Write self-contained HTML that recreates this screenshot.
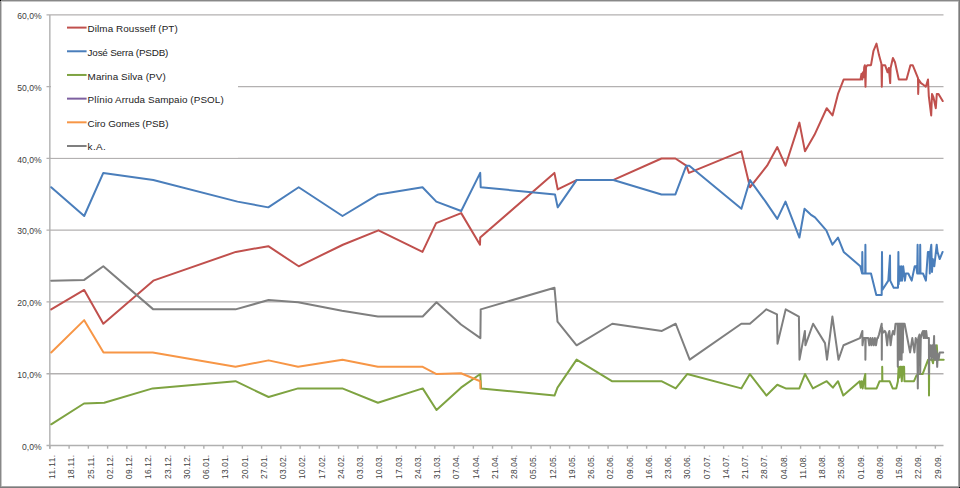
<!DOCTYPE html>
<html><head><meta charset="utf-8"><title>Umfragen</title>
<style>
html,body{margin:0;padding:0;background:#fff;}
body{width:960px;height:488px;overflow:hidden;position:relative;font-family:"Liberation Sans",sans-serif;}
svg{position:absolute;left:0;top:0;}
text{font-family:"Liberation Sans",sans-serif;}
</style></head><body>
<svg width="960" height="488" viewBox="0 0 960 488">
<rect x="0" y="0" width="960" height="488" fill="#fff"/>
<g stroke="#b3b1b1" stroke-width="1.3" fill="none">
<line x1="46.5" y1="14.88" x2="943.50" y2="14.88"/>
<line x1="46.5" y1="86.65" x2="943.50" y2="86.65"/>
<line x1="46.5" y1="158.42" x2="943.50" y2="158.42"/>
<line x1="46.5" y1="230.19" x2="943.50" y2="230.19"/>
<line x1="46.5" y1="301.96" x2="943.50" y2="301.96"/>
<line x1="46.5" y1="373.73" x2="943.50" y2="373.73"/>
</g>
<g stroke="#b0b0b0" stroke-width="1.4" fill="none">
<line x1="49.85" y1="14.88" x2="49.85" y2="448.70"/>
<line x1="46.5" y1="445.50" x2="943.50" y2="445.50"/>
<line x1="49.85" y1="445.50" x2="49.85" y2="448.70"/>
<line x1="69.10" y1="445.50" x2="69.10" y2="448.70"/>
<line x1="88.35" y1="445.50" x2="88.35" y2="448.70"/>
<line x1="107.60" y1="445.50" x2="107.60" y2="448.70"/>
<line x1="126.85" y1="445.50" x2="126.85" y2="448.70"/>
<line x1="146.10" y1="445.50" x2="146.10" y2="448.70"/>
<line x1="165.35" y1="445.50" x2="165.35" y2="448.70"/>
<line x1="184.60" y1="445.50" x2="184.60" y2="448.70"/>
<line x1="203.85" y1="445.50" x2="203.85" y2="448.70"/>
<line x1="223.10" y1="445.50" x2="223.10" y2="448.70"/>
<line x1="242.35" y1="445.50" x2="242.35" y2="448.70"/>
<line x1="261.60" y1="445.50" x2="261.60" y2="448.70"/>
<line x1="280.85" y1="445.50" x2="280.85" y2="448.70"/>
<line x1="300.10" y1="445.50" x2="300.10" y2="448.70"/>
<line x1="319.35" y1="445.50" x2="319.35" y2="448.70"/>
<line x1="338.60" y1="445.50" x2="338.60" y2="448.70"/>
<line x1="357.85" y1="445.50" x2="357.85" y2="448.70"/>
<line x1="377.10" y1="445.50" x2="377.10" y2="448.70"/>
<line x1="396.35" y1="445.50" x2="396.35" y2="448.70"/>
<line x1="415.60" y1="445.50" x2="415.60" y2="448.70"/>
<line x1="434.85" y1="445.50" x2="434.85" y2="448.70"/>
<line x1="454.10" y1="445.50" x2="454.10" y2="448.70"/>
<line x1="473.35" y1="445.50" x2="473.35" y2="448.70"/>
<line x1="492.60" y1="445.50" x2="492.60" y2="448.70"/>
<line x1="511.85" y1="445.50" x2="511.85" y2="448.70"/>
<line x1="531.10" y1="445.50" x2="531.10" y2="448.70"/>
<line x1="550.35" y1="445.50" x2="550.35" y2="448.70"/>
<line x1="569.60" y1="445.50" x2="569.60" y2="448.70"/>
<line x1="588.85" y1="445.50" x2="588.85" y2="448.70"/>
<line x1="608.10" y1="445.50" x2="608.10" y2="448.70"/>
<line x1="627.35" y1="445.50" x2="627.35" y2="448.70"/>
<line x1="646.60" y1="445.50" x2="646.60" y2="448.70"/>
<line x1="665.85" y1="445.50" x2="665.85" y2="448.70"/>
<line x1="685.10" y1="445.50" x2="685.10" y2="448.70"/>
<line x1="704.35" y1="445.50" x2="704.35" y2="448.70"/>
<line x1="723.60" y1="445.50" x2="723.60" y2="448.70"/>
<line x1="742.85" y1="445.50" x2="742.85" y2="448.70"/>
<line x1="762.10" y1="445.50" x2="762.10" y2="448.70"/>
<line x1="781.35" y1="445.50" x2="781.35" y2="448.70"/>
<line x1="800.60" y1="445.50" x2="800.60" y2="448.70"/>
<line x1="819.85" y1="445.50" x2="819.85" y2="448.70"/>
<line x1="839.10" y1="445.50" x2="839.10" y2="448.70"/>
<line x1="858.35" y1="445.50" x2="858.35" y2="448.70"/>
<line x1="877.60" y1="445.50" x2="877.60" y2="448.70"/>
<line x1="896.85" y1="445.50" x2="896.85" y2="448.70"/>
<line x1="916.10" y1="445.50" x2="916.10" y2="448.70"/>
<line x1="935.35" y1="445.50" x2="935.35" y2="448.70"/>
</g>
<g font-size="8.6" fill="#404040" text-anchor="end">
<text x="41.7" y="19.08">60,0%</text>
<text x="41.7" y="90.85">50,0%</text>
<text x="41.7" y="162.62">40,0%</text>
<text x="41.7" y="234.39">30,0%</text>
<text x="41.7" y="306.16">20,0%</text>
<text x="41.7" y="377.93">10,0%</text>
<text x="41.7" y="449.70">0,0%</text>
</g>
<g font-size="8.4" fill="#404040" text-anchor="end">
<text transform="translate(55.15,454.9) rotate(-90)" textLength="24" lengthAdjust="spacing">11.11.</text>
<text transform="translate(74.40,454.9) rotate(-90)" textLength="24" lengthAdjust="spacing">18.11.</text>
<text transform="translate(93.65,454.9) rotate(-90)" textLength="24" lengthAdjust="spacing">25.11.</text>
<text transform="translate(112.90,454.9) rotate(-90)" textLength="24" lengthAdjust="spacing">02.12.</text>
<text transform="translate(132.15,454.9) rotate(-90)" textLength="24" lengthAdjust="spacing">09.12.</text>
<text transform="translate(151.40,454.9) rotate(-90)" textLength="24" lengthAdjust="spacing">16.12.</text>
<text transform="translate(170.65,454.9) rotate(-90)" textLength="24" lengthAdjust="spacing">23.12.</text>
<text transform="translate(189.90,454.9) rotate(-90)" textLength="24" lengthAdjust="spacing">30.12.</text>
<text transform="translate(209.15,454.9) rotate(-90)" textLength="24" lengthAdjust="spacing">06.01.</text>
<text transform="translate(228.40,454.9) rotate(-90)" textLength="24" lengthAdjust="spacing">13.01.</text>
<text transform="translate(247.65,454.9) rotate(-90)" textLength="24" lengthAdjust="spacing">20.01.</text>
<text transform="translate(266.90,454.9) rotate(-90)" textLength="24" lengthAdjust="spacing">27.01.</text>
<text transform="translate(286.15,454.9) rotate(-90)" textLength="24" lengthAdjust="spacing">03.02.</text>
<text transform="translate(305.40,454.9) rotate(-90)" textLength="24" lengthAdjust="spacing">10.02.</text>
<text transform="translate(324.65,454.9) rotate(-90)" textLength="24" lengthAdjust="spacing">17.02.</text>
<text transform="translate(343.90,454.9) rotate(-90)" textLength="24" lengthAdjust="spacing">24.02.</text>
<text transform="translate(363.15,454.9) rotate(-90)" textLength="24" lengthAdjust="spacing">03.03.</text>
<text transform="translate(382.40,454.9) rotate(-90)" textLength="24" lengthAdjust="spacing">10.03.</text>
<text transform="translate(401.65,454.9) rotate(-90)" textLength="24" lengthAdjust="spacing">17.03.</text>
<text transform="translate(420.90,454.9) rotate(-90)" textLength="24" lengthAdjust="spacing">24.03.</text>
<text transform="translate(440.15,454.9) rotate(-90)" textLength="24" lengthAdjust="spacing">31.03.</text>
<text transform="translate(459.40,454.9) rotate(-90)" textLength="24" lengthAdjust="spacing">07.04.</text>
<text transform="translate(478.65,454.9) rotate(-90)" textLength="24" lengthAdjust="spacing">14.04.</text>
<text transform="translate(497.90,454.9) rotate(-90)" textLength="24" lengthAdjust="spacing">21.04.</text>
<text transform="translate(517.15,454.9) rotate(-90)" textLength="24" lengthAdjust="spacing">28.04.</text>
<text transform="translate(536.40,454.9) rotate(-90)" textLength="24" lengthAdjust="spacing">05.05.</text>
<text transform="translate(555.65,454.9) rotate(-90)" textLength="24" lengthAdjust="spacing">12.05.</text>
<text transform="translate(574.90,454.9) rotate(-90)" textLength="24" lengthAdjust="spacing">19.05.</text>
<text transform="translate(594.15,454.9) rotate(-90)" textLength="24" lengthAdjust="spacing">26.05.</text>
<text transform="translate(613.40,454.9) rotate(-90)" textLength="24" lengthAdjust="spacing">02.06.</text>
<text transform="translate(632.65,454.9) rotate(-90)" textLength="24" lengthAdjust="spacing">09.06.</text>
<text transform="translate(651.90,454.9) rotate(-90)" textLength="24" lengthAdjust="spacing">16.06.</text>
<text transform="translate(671.15,454.9) rotate(-90)" textLength="24" lengthAdjust="spacing">23.06.</text>
<text transform="translate(690.40,454.9) rotate(-90)" textLength="24" lengthAdjust="spacing">30.06.</text>
<text transform="translate(709.65,454.9) rotate(-90)" textLength="24" lengthAdjust="spacing">07.07.</text>
<text transform="translate(728.90,454.9) rotate(-90)" textLength="24" lengthAdjust="spacing">14.07.</text>
<text transform="translate(748.15,454.9) rotate(-90)" textLength="24" lengthAdjust="spacing">21.07.</text>
<text transform="translate(767.40,454.9) rotate(-90)" textLength="24" lengthAdjust="spacing">28.07.</text>
<text transform="translate(786.65,454.9) rotate(-90)" textLength="24" lengthAdjust="spacing">04.08.</text>
<text transform="translate(805.90,454.9) rotate(-90)" textLength="24" lengthAdjust="spacing">11.08.</text>
<text transform="translate(825.15,454.9) rotate(-90)" textLength="24" lengthAdjust="spacing">18.08.</text>
<text transform="translate(844.40,454.9) rotate(-90)" textLength="24" lengthAdjust="spacing">25.08.</text>
<text transform="translate(863.65,454.9) rotate(-90)" textLength="24" lengthAdjust="spacing">01.09.</text>
<text transform="translate(882.90,454.9) rotate(-90)" textLength="24" lengthAdjust="spacing">08.09.</text>
<text transform="translate(902.15,454.9) rotate(-90)" textLength="24" lengthAdjust="spacing">15.09.</text>
<text transform="translate(921.40,454.9) rotate(-90)" textLength="24" lengthAdjust="spacing">22.09.</text>
<text transform="translate(940.65,454.9) rotate(-90)" textLength="24" lengthAdjust="spacing">29.09.</text>
</g>
<g fill="none" stroke-width="2" stroke-linejoin="round" stroke-linecap="round">
<polyline stroke="#c0504d" points="51.20,309.37 84.20,289.98 103.30,323.74 153.30,280.64 235.80,251.91 268.30,246.16 298.70,266.28 342.90,244.73 378.50,230.36 422.50,251.91 436.10,223.18 461.20,213.12 480.00,244.73 480.20,237.54 554.40,172.90 557.70,189.42 576.60,180.08 613.00,180.08 661.50,158.53 675.40,158.53 686.30,165.71 689.00,172.90 741.40,151.35 750.00,187.26 767.10,165.71 777.30,147.04 785.50,165.71 799.40,122.62 805.00,151.35 814.50,134.83 826.70,108.25 832.50,115.43 838.00,93.88 843.60,79.52 860.50,79.52 861.50,73.77 862.30,79.52 863.00,72.33 863.70,77.36 864.20,67.31 864.80,65.15 865.50,86.70 866.00,67.31 867.30,65.15 871.00,65.15 873.50,50.79 876.50,43.60 879.00,55.09 881.40,63.71 881.80,86.70 882.20,65.15 883.30,65.15 885.10,65.15 887.60,72.33 888.80,68.02 890.20,83.11 890.60,68.02 892.90,57.97 895.00,62.28 898.80,79.52 906.50,79.52 910.40,65.15 912.70,65.15 918.00,78.08 918.20,93.88 918.60,79.52 921.00,83.11 923.00,84.55 925.80,86.70 928.00,79.52 928.80,96.04 931.20,115.43 932.00,93.88 933.50,97.47 935.80,108.25 936.80,93.88 938.50,93.88 942.70,101.07"/>
<polyline stroke="#4a7ebb" points="51.20,187.26 84.20,215.99 103.30,172.90 153.30,180.08 237.50,201.63 268.30,207.37 298.70,187.26 342.50,215.99 378.30,194.45 422.50,187.26 436.30,201.63 461.20,210.97 480.20,172.90 480.70,187.26 555.00,194.45 557.70,207.37 576.60,180.08 613.40,180.08 661.50,194.45 675.40,194.45 686.30,165.71 689.30,165.71 741.40,208.81 750.00,180.08 765.60,201.63 777.30,218.87 785.50,201.63 799.40,237.54 804.50,208.81 810.70,214.56 815.00,217.43 826.30,230.36 832.40,244.73 838.00,237.54 843.70,251.91 860.30,266.28 862.10,273.46 862.30,251.91 862.60,273.46 865.20,273.46 865.40,244.73 865.60,273.46 871.00,273.46 876.30,295.01 881.70,295.01 882.00,251.91 882.30,289.98 888.30,280.64 890.00,255.50 890.20,280.64 893.70,287.82 898.00,287.82 898.40,251.91 898.70,284.23 899.40,266.28 900.20,280.64 901.20,266.28 902.00,280.64 903.20,266.28 904.90,280.64 905.80,273.46 908.30,273.46 911.70,280.64 914.70,266.28 916.30,266.28 917.20,273.46 917.60,244.73 917.90,273.46 920.00,273.46 920.20,244.73 920.50,273.46 923.00,273.46 925.90,280.64 927.90,251.91 929.50,251.91 929.80,273.46 930.30,251.91 931.30,244.73 932.00,272.02 932.80,259.09 933.30,261.25 934.30,266.28 936.70,244.73 937.50,251.91 939.70,259.09 942.60,251.91"/>
<polyline stroke="#7ea341" points="51.20,424.30 84.00,403.47 104.20,402.75 152.70,388.39 235.50,381.20 268.60,397.01 298.10,388.39 342.30,388.39 377.90,402.75 422.70,388.39 436.50,409.94 461.00,387.67 480.30,374.02 481.10,388.39 554.50,395.57 557.50,387.67 576.60,359.65 611.90,381.20 661.40,381.20 675.70,388.39 687.20,374.02 741.30,388.39 749.90,374.02 766.50,395.57 777.30,384.79 785.70,388.39 799.30,388.39 805.00,374.02 812.90,388.39 826.70,381.20 832.90,387.67 838.00,381.20 843.30,395.57 859.70,381.20 860.70,387.67 861.70,381.20 862.70,388.39 863.70,381.20 865.30,374.02 865.30,388.39 876.60,388.39 879.60,381.20 882.20,381.20 882.20,366.84 882.40,381.20 889.60,381.20 892.70,388.39 896.30,388.39 897.90,381.20 898.60,366.84 899.40,377.61 900.40,366.84 901.20,366.84 901.80,381.20 902.80,366.84 904.10,366.84 904.40,381.20 914.00,381.20 916.50,375.46 918.50,374.02 922.60,374.02 928.10,359.65 928.80,359.65 929.00,395.57 929.20,359.65 932.00,359.65 933.00,363.25 934.00,356.06 935.00,359.65 936.30,359.65 936.80,345.29 937.50,357.50 938.70,359.65 943.70,359.65"/>
<polyline stroke="#f79646" points="51.20,352.47 84.20,320.15 103.50,352.47 152.70,352.47 235.50,366.84 268.60,360.37 298.10,366.84 342.50,359.65 377.90,366.84 422.70,366.84 436.50,374.02 461.00,373.30 480.30,381.20 480.40,388.39"/>
<polyline stroke="#7f7f7f" points="51.20,280.64 84.20,279.92 103.30,266.28 153.30,309.37 235.50,309.37 268.60,300.04 298.10,302.19 342.00,310.81 377.90,316.56 422.70,316.56 436.50,302.19 461.00,324.46 480.40,338.11 480.70,309.37 554.50,287.82 557.50,321.58 576.60,345.29 612.30,323.74 661.90,330.92 675.70,323.74 689.70,359.65 741.30,323.74 749.90,323.74 766.40,309.37 777.00,314.40 777.50,343.85 785.70,309.37 798.90,316.56 799.50,359.65 804.90,330.92 805.40,345.29 813.10,323.74 825.00,343.13 827.00,359.65 832.40,316.56 838.50,359.65 843.50,345.29 860.00,338.11 862.40,330.92 862.50,345.29 863.50,338.11 865.30,338.11 865.40,359.65 865.70,338.11 868.20,338.11 869.30,345.29 870.40,338.11 871.50,345.29 872.60,338.11 873.80,345.29 874.90,338.11 876.00,345.29 877.20,338.11 877.80,338.11 879.00,334.51 881.70,323.74 881.80,359.65 882.00,327.33 882.60,330.92 883.50,332.36 884.80,330.92 885.70,332.36 887.20,345.29 888.20,334.51 889.40,330.92 890.60,345.29 891.80,335.95 893.00,330.92 894.30,334.51 895.50,323.74 897.60,323.74 897.80,366.84 898.20,323.74 899.50,323.74 899.70,359.65 900.10,323.74 901.30,323.74 901.60,359.65 902.00,323.74 902.60,323.74 902.80,352.47 903.20,323.74 904.60,323.74 910.10,352.47 912.30,338.11 914.40,352.47 915.70,338.11 917.30,341.70 917.80,388.39 918.30,338.11 919.50,334.51 920.20,374.02 920.80,338.11 922.30,332.36 923.00,330.92 923.80,338.11 924.60,330.92 925.40,338.11 926.20,330.92 927.00,338.11 928.90,338.11 929.00,374.02 929.20,345.29 930.00,356.06 930.60,345.29 931.50,359.65 932.40,345.29 933.20,357.50 934.10,335.95 934.30,359.65 935.20,345.29 936.00,359.65 936.60,351.03 937.20,366.84 937.80,353.91 938.60,359.65 939.70,352.47 943.20,352.47"/>
</g>
<rect x="51" y="16.5" width="187" height="141" fill="#fff"/>
<g font-size="9.9" letter-spacing="0.08" fill="#222">
<line x1="67" y1="27.60" x2="86.6" y2="27.60" stroke="#c0504d" stroke-width="2"/>
<text x="87.6" y="32.40">Dilma Rousseff (PT)</text>
<line x1="67" y1="51.28" x2="86.6" y2="51.28" stroke="#4a7ebb" stroke-width="2"/>
<text x="87.6" y="55.95" textLength="80.8" lengthAdjust="spacing">José Serra (PSDB)</text>
<line x1="67" y1="74.96" x2="86.6" y2="74.96" stroke="#7ea341" stroke-width="2"/>
<text x="87.6" y="79.50">Marina Silva (PV)</text>
<line x1="67" y1="98.64" x2="86.6" y2="98.64" stroke="#7d60a0" stroke-width="2"/>
<text x="87.6" y="103.05">Plínio Arruda Sampaio (PSOL)</text>
<line x1="67" y1="122.32" x2="86.6" y2="122.32" stroke="#f79646" stroke-width="2"/>
<text x="87.6" y="126.60" textLength="80.9" lengthAdjust="spacing">Ciro Gomes (PSB)</text>
<line x1="67" y1="146.00" x2="86.6" y2="146.00" stroke="#7f7f7f" stroke-width="2"/>
<text x="87.6" y="150.15" textLength="18.3" lengthAdjust="spacing">k.A.</text>
</g>
<g shape-rendering="crispEdges">
<rect x="1" y="1" width="958" height="1" fill="#c8c8c8"/>
<rect x="1" y="1" width="1" height="486" fill="#c8c8c8"/>
<rect x="1" y="486" width="958" height="1" fill="#a8a8a8"/>
<rect x="958" y="1" width="1" height="486" fill="#a8a8a8"/>
<rect x="0" y="0" width="960" height="1" fill="#888"/>
<rect x="0" y="0" width="1" height="488" fill="#888"/>
<rect x="0" y="487" width="960" height="1" fill="#7c7c7c"/>
<rect x="959" y="0" width="1" height="488" fill="#7c7c7c"/>
<rect x="0" y="0" width="1" height="1" fill="#000"/>
<rect x="959" y="487" width="1" height="1" fill="#000"/>
</g>
</svg>
</body></html>
